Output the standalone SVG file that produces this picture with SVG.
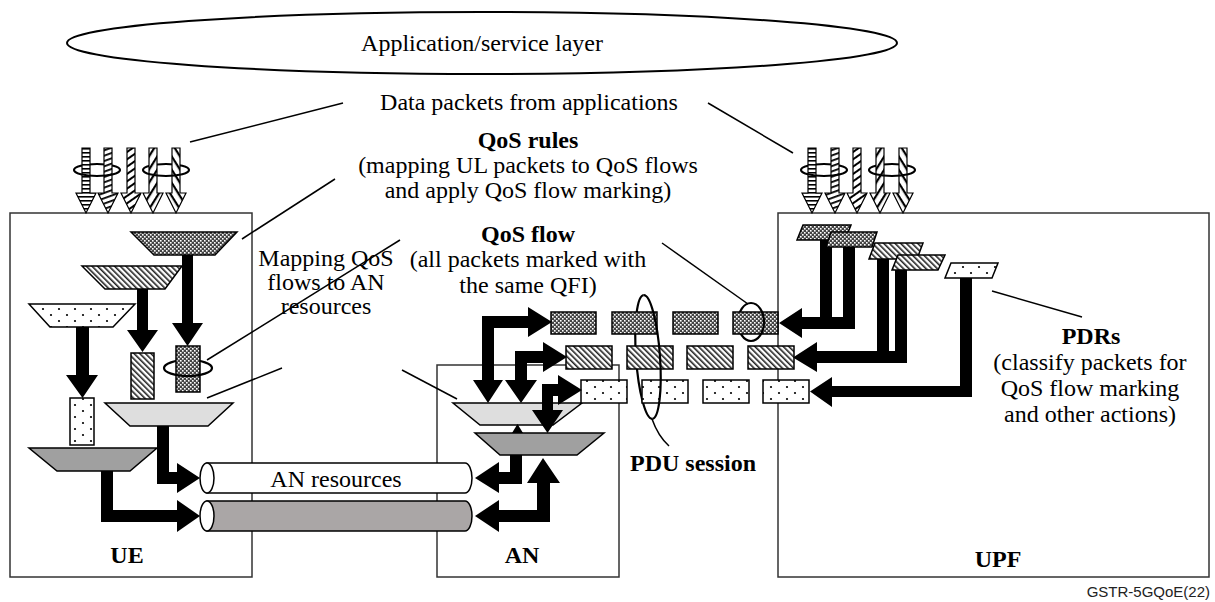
<svg xmlns="http://www.w3.org/2000/svg" width="1215" height="602" viewBox="0 0 1215 602">
<style>
.t{font-family:'Liberation Serif','Times New Roman',serif;font-size:24px;fill:#000;text-anchor:middle}
.b{font-weight:bold}
.box{fill:#fff;stroke:#333;stroke-width:1.5}
.ln{stroke:#000;stroke-width:1.5;fill:none}
.ol{stroke:#000;stroke-width:1.5}
.blk{fill:#000}
.ring{fill:none;stroke:#000;stroke-width:2.2}
.pk{stroke:#000;stroke-width:1.2}
</style>
<defs>
<pattern id="chk" width="4" height="4" patternUnits="userSpaceOnUse"><rect width="4" height="4" fill="#444"/><rect width="1.6" height="1.6" fill="#fff"/><rect x="2" y="2" width="1.6" height="1.6" fill="#fff"/></pattern>
<pattern id="dia" width="4" height="4" patternUnits="userSpaceOnUse" patternTransform="rotate(-45)"><rect width="4" height="4" fill="#fff"/><rect width="1.6" height="4" fill="#222"/></pattern>
<pattern id="dot" width="16" height="12" patternUnits="userSpaceOnUse"><rect width="16" height="12" fill="#fff"/><circle cx="3" cy="3" r="1.1" fill="#000"/><circle cx="11" cy="9" r="1.1" fill="#000"/></pattern>
<pattern id="s0" width="5" height="4" patternUnits="userSpaceOnUse"><rect width="5" height="4" fill="#fff"/><rect width="5" height="1.6" fill="#000"/></pattern>
<pattern id="s1" width="5" height="5" patternUnits="userSpaceOnUse" patternTransform="rotate(-20)"><rect width="5" height="5" fill="#fff"/><rect width="5" height="1.8" fill="#000"/></pattern>
<pattern id="s2" width="6" height="6" patternUnits="userSpaceOnUse" patternTransform="rotate(-35)"><rect width="6" height="6" fill="#fff"/><rect width="6" height="2" fill="#000"/></pattern>
<pattern id="s3" width="7" height="7" patternUnits="userSpaceOnUse" patternTransform="rotate(-58)"><rect width="7" height="7" fill="#fff"/><rect width="7" height="2.2" fill="#000"/></pattern>
<pattern id="s4" width="7" height="7" patternUnits="userSpaceOnUse" patternTransform="rotate(58)"><rect width="7" height="7" fill="#fff"/><rect width="7" height="2.2" fill="#000"/></pattern>
<polygon id="pa" points="-4,0 4,0 4,45 10,45 0,65 -10,45 -4,45"/>
</defs>
<rect width="1215" height="602" fill="#fff"/>

<g id="app-layer">
<ellipse cx="482" cy="43" rx="415" ry="31" fill="#fff" stroke="#000" stroke-width="2"/>
<text class="t" x="482" y="51">Application/service layer</text>
</g>

<g id="UE">
<rect class="box" x="10" y="213" width="242" height="364"/>
<text class="t b" x="127" y="563">UE</text>
</g>
<g id="AN">
<rect class="box" x="437" y="365" width="182" height="212"/>
<text class="t b" x="522" y="563">AN</text>
</g>
<g id="UPF">
<rect class="box" x="778" y="213" width="431" height="364"/>
<text class="t b" x="998" y="567">UPF</text>
</g>

<g id="labels">
<text class="t" x="529" y="110">Data packets from applications</text>
<text class="t b" x="528" y="148">QoS rules</text>
<text class="t" x="528" y="173">(mapping UL packets to QoS flows</text>
<text class="t" x="528" y="198">and apply QoS flow marking)</text>
<text class="t b" x="528" y="242">QoS flow</text>
<text class="t" x="528" y="267">(all packets marked with</text>
<text class="t" x="528" y="293">the same QFI)</text>
<text class="t" x="326" y="266">Mapping QoS</text>
<text class="t" x="326" y="290">flows to AN</text>
<text class="t" x="326" y="314">resources</text>
<text class="t b" x="693" y="471">PDU session</text>
<text class="t b" x="1091" y="344">PDRs</text>
<text class="t" x="1090" y="370">(classify packets for</text>
<text class="t" x="1090" y="396">QoS flow marking</text>
<text class="t" x="1090" y="422">and other actions)</text>
<text x="1210" y="597" text-anchor="end" font-family="'Liberation Sans',Arial,sans-serif" font-size="15" fill="#222">GSTR-5GQoE(22)</text>
</g>

<g id="ue-packets">
<path class="ring" d="M74,170 A23,6 0 0 1 120,170"/>
<path class="ring" d="M143,170 A23,6 0 0 1 189,170"/>
<use href="#pa" x="86" y="148" fill="url(#s0)" class="pk"/>
<use href="#pa" x="108" y="148" fill="url(#s1)" class="pk"/>
<use href="#pa" x="131" y="148" fill="url(#s2)" class="pk"/>
<use href="#pa" x="153" y="148" fill="url(#s3)" class="pk"/>
<use href="#pa" x="176" y="148" fill="url(#s4)" class="pk"/>
<path class="ring" d="M74,170 A23,6 0 0 0 120,170"/>
<path class="ring" d="M143,170 A23,6 0 0 0 189,170"/>
</g>

<g id="upf-packets">
<path class="ring" d="M801,170 A23,6 0 0 1 847,170"/>
<path class="ring" d="M869,170 A23,6 0 0 1 915,170"/>
<use href="#pa" x="812" y="148" fill="url(#s0)" class="pk"/>
<use href="#pa" x="835" y="148" fill="url(#s1)" class="pk"/>
<use href="#pa" x="857" y="148" fill="url(#s2)" class="pk"/>
<use href="#pa" x="880" y="148" fill="url(#s3)" class="pk"/>
<use href="#pa" x="903" y="148" fill="url(#s4)" class="pk"/>
<path class="ring" d="M801,170 A23,6 0 0 0 847,170"/>
<path class="ring" d="M869,170 A23,6 0 0 0 915,170"/>
</g>

<g id="connectors">
<g id="leaders" class="ln">
<line x1="190" y1="142" x2="343" y2="103"/>
<line x1="708" y1="103" x2="793" y2="153"/>
<line x1="242" y1="239" x2="335" y2="179"/>
<line x1="400" y1="240" x2="207" y2="360"/>
<line x1="662" y1="243" x2="748" y2="304"/>
<line x1="282" y1="368" x2="207" y2="398"/>
<line x1="402" y1="370" x2="457" y2="399"/>
<line x1="992" y1="291" x2="1082" y2="317"/>
<path d="M652,419 Q658,436 669,446"/>
</g>
<g id="ue-arrows" class="blk">
<polygon points="182,255 193,255 193,323 203,323 187.5,346 172,323 182,323"/>
<polygon points="137,289 148,289 148,330 158,330 142.5,352 127,330 137,330"/>
<polygon points="76,327 89,327 89,375 98,375 82.5,398 66,375 76,375"/>
<polygon points="157,426 169,426 169,472 177,472 177,463 200,478 177,493 177,484 157,484"/>
<polygon points="101,471 113,471 113,510 177,510 177,500 200,516 177,532 177,522 101,522"/>
</g>
<g id="an-low-arrows" class="blk">
<polygon points="510,440 522,440 522,484 499,484 499,493 475,478 499,462 499,472 510,472"/>
<polygon points="543,458 560,483 550,483 550,522 499,522 499,532 475,516 499,500 499,510 537,510 537,483 527,483"/>
</g>
<g id="upf-arrows" class="blk">
<polygon points="820,238 832,238 832,317 843,317 843,245 855,245 855,329 802,329 802,338 779,323 802,308 802,317 820,317"/>
<polygon points="877,257 889,257 889,351 895,351 895,268 907,268 907,363 817,363 817,372 793,357.5 817,342 817,351 877,351"/>
<polygon points="960,276 972,276 972,397 832,397 832,407 810,391.5 832,377 832,386 960,386"/>
</g>
</g>

<g id="ue-rules">
<polygon class="ol" points="131,232 237,232 215,255 154,255" fill="url(#chk)"/>
<polygon class="ol" points="82,266 182,266 165,289 105,289" fill="url(#dia)"/>
<polygon class="ol" points="29,304 135,304 113,327 50,327" fill="url(#dot)"/>
</g>
<g id="ue-flows">
<path class="ring" d="M164,368 A24,8 0 0 1 212,368"/>
<rect class="ol" x="176" y="346" width="24" height="46" fill="url(#chk)"/>
<path class="ring" d="M164,368 A24,8 0 0 0 212,368"/>
<rect class="ol" x="131" y="353" width="23" height="46" fill="url(#dia)"/>
<rect class="ol" x="70" y="398" width="24" height="47" fill="url(#dot)"/>
</g>
<g id="ue-mapping">
<polygon class="ol" points="105,403 233,403 208,426 130,426" fill="#dedede"/>
<polygon class="ol" points="29,448 157,448 130,471 57,471" fill="#a0a0a0"/>
</g>

<g id="an-resources">
<path class="ol" d="M207,463 L465,463 A7,15 0 0 1 465,493 L207,493 Z" fill="#fff"/>
<ellipse class="ol" cx="207" cy="478" rx="7" ry="15" fill="#fff"/>
<text class="t" x="336" y="487">AN resources</text>
<path class="ol" d="M207,501 L465,501 A7,15 0 0 1 465,531 L207,531 Z" fill="#aaa6a6"/>
<ellipse class="ol" cx="207" cy="516" rx="7" ry="15" fill="#fff"/>
</g>

<g id="an-mapping">
<polygon class="ol" points="453,403 582,403 553,425 480,425" fill="#dedede"/>
<polygon class="ol" points="475,433 604,433 577,455 500,455" fill="#a0a0a0"/>
<polygon class="blk" points="512,433 523,433 517.5,424"/>
</g>

<g id="pdu-ring-back">
<path class="ring" transform="translate(648,357) rotate(-4)" d="M0,-62 A12,62 0 0 0 0,62"/>
<path class="ring" d="M751,341 A13,19 0 0 1 751,303"/>
</g>

<g id="qos-flows">
<rect class="ol" x="551" y="312" width="45" height="22" fill="url(#chk)"/>
<rect class="ol" x="612" y="312" width="45" height="22" fill="url(#chk)"/>
<rect class="ol" x="673" y="312" width="45" height="22" fill="url(#chk)"/>
<rect class="ol" x="733" y="312" width="45" height="22" fill="url(#chk)"/>
<rect class="ol" x="566" y="346" width="46" height="23" fill="url(#dia)"/>
<rect class="ol" x="627" y="346" width="46" height="23" fill="url(#dia)"/>
<rect class="ol" x="687" y="346" width="46" height="23" fill="url(#dia)"/>
<rect class="ol" x="748" y="346" width="46" height="23" fill="url(#dia)"/>
<rect class="ol" x="581" y="380" width="46" height="23" fill="url(#dot)"/>
<rect class="ol" x="642" y="380" width="46" height="23" fill="url(#dot)"/>
<rect class="ol" x="703" y="380" width="46" height="23" fill="url(#dot)"/>
<rect class="ol" x="763" y="380" width="46" height="23" fill="url(#dot)"/>
</g>

<g id="pdu-ring-front">
<path class="ring" transform="translate(648,357) rotate(-4)" d="M0,-62 A12,62 0 0 1 0,62"/>
<path class="ring" d="M751,303 A13,19 0 0 1 751,341"/>
</g>

<g id="an-top-arrows" class="blk">
<polygon points="488,403 503,380 494,380 494,328 528,328 528,337 552,322 528,307 528,316 482,316 482,380 473,380"/>
<polygon points="521,403 537,380 527,380 527,363 543,363 543,372 567,357 543,342 543,351 515,351 515,380 505,380"/>
<polygon points="547.5,433 563,410 553,410 553,396 558,396 558,405 582,390 558,375 558,384 542,384 542,410 532,410"/>
</g>

<g id="pdrs">
<polygon class="ol" points="803,225 851,225 845,240 797,240" fill="url(#chk)"/>
<polygon class="ol" points="831,232 877,232 872,247 826,247" fill="url(#chk)"/>
<polygon class="ol" points="875,243 923,243 917,259 869,259" fill="url(#dia)"/>
<polygon class="ol" points="898,255 945,255 938,270 892,270" fill="url(#dia)"/>
<polygon class="ol" points="951,263 998,263 992,278 945,278" fill="url(#dot)"/>
</g>
</svg>
